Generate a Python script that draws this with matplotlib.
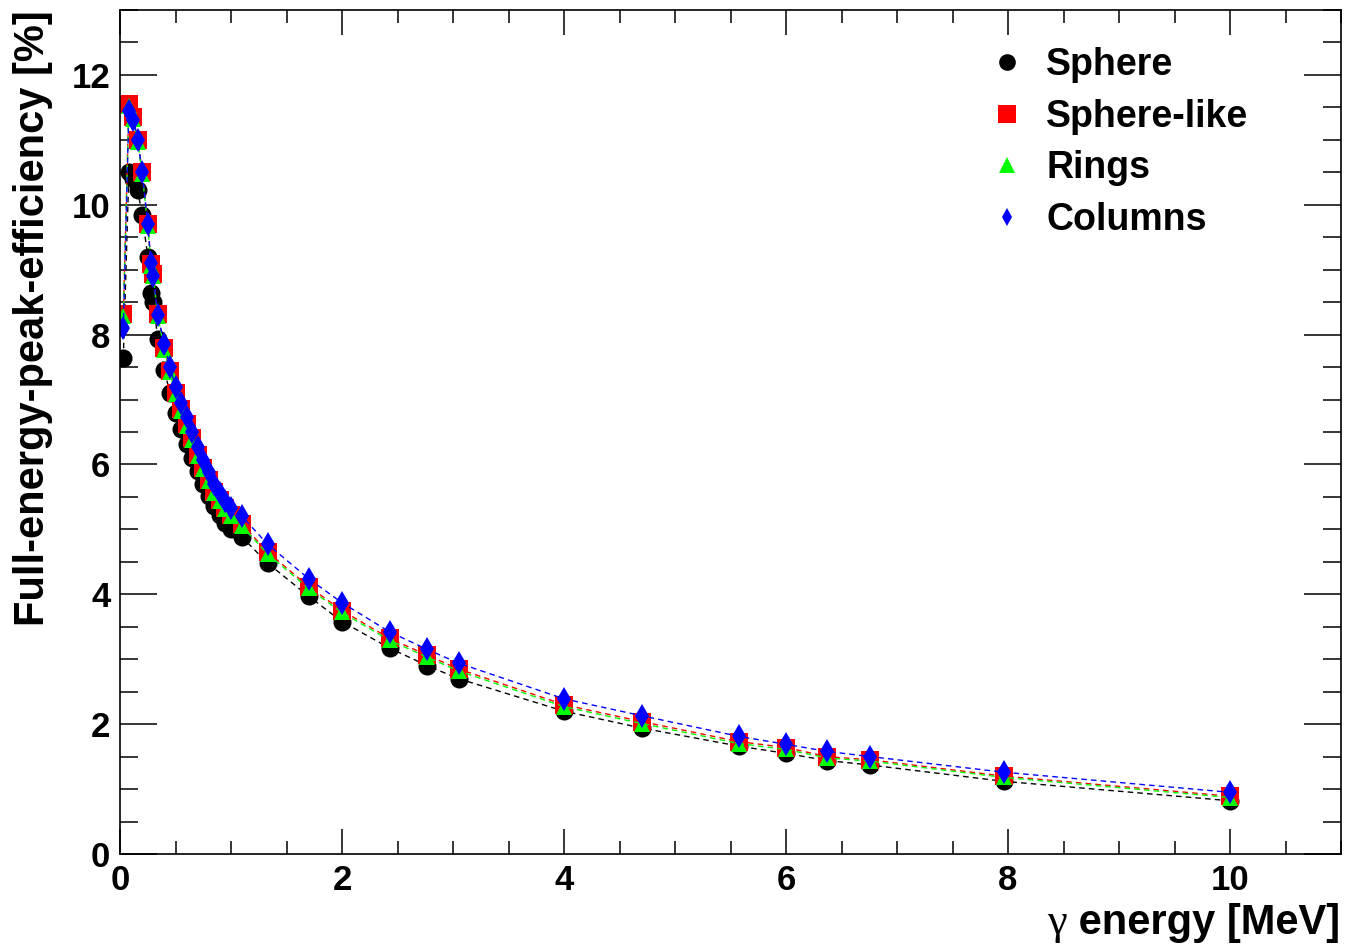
import numpy as np
import matplotlib
matplotlib.use('Agg')
import matplotlib.pyplot as plt

# gamma energies [MeV]
energy = [0.03, 0.08, 0.12, 0.16, 0.2, 0.25, 0.28, 0.3, 0.34, 0.4, 0.45, 0.5,
          0.55, 0.6, 0.65, 0.7, 0.75, 0.8, 0.85, 0.9, 0.95, 1.0, 1.1, 1.33,
          1.7, 2.0, 2.43, 2.77, 3.05, 4.0, 4.7, 5.58, 6.0, 6.37, 6.76, 7.96, 10.0]

# full-energy-peak efficiency [%] per geometry
sphere = [7.64, 10.5, 10.4, 10.22, 9.84, 9.2, 8.64, 8.5, 7.94, 7.45, 7.1, 6.8,
          6.55, 6.32, 6.1, 5.9, 5.7, 5.52, 5.36, 5.22, 5.1, 5.0, 4.88, 4.48,
          3.97, 3.58, 3.17, 2.9, 2.7, 2.2, 1.94, 1.66, 1.55, 1.44, 1.37, 1.12, 0.82]
sphere_like = [8.31, 11.55, 11.35, 11.0, 10.5, 9.7, 9.08, 8.93, 8.31, 7.79, 7.44, 7.1,
               6.85, 6.62, 6.4, 6.15, 5.95, 5.76, 5.58, 5.45, 5.33, 5.22, 5.08, 4.65,
               4.12, 3.75, 3.32, 3.06, 2.85, 2.3, 2.04, 1.73, 1.64, 1.5, 1.45, 1.2, 0.89]
rings = [8.28, 11.52, 11.32, 10.97, 10.47, 9.67, 9.05, 8.9, 8.28, 7.77, 7.42, 7.08,
         6.83, 6.6, 6.38, 6.13, 5.93, 5.74, 5.56, 5.43, 5.31, 5.2, 5.05, 4.62,
         4.09, 3.72, 3.29, 3.03, 2.82, 2.27, 2.01, 1.7, 1.61, 1.48, 1.43, 1.18, 0.87]
columns = [8.1, 11.45, 11.3, 11.0, 10.5, 9.7, 9.1, 8.9, 8.3, 7.85, 7.5, 7.2,
           6.95, 6.73, 6.5, 6.27, 6.07, 5.88, 5.7, 5.56, 5.44, 5.33, 5.2, 4.77,
           4.24, 3.87, 3.42, 3.15, 2.94, 2.39, 2.13, 1.81, 1.69, 1.58, 1.5, 1.26, 0.95]

labels = ['Sphere', 'Sphere-like', 'Rings', 'Columns']
colors = ['black', '#ff0000', '#00ff00', '#0000ff']
markers = ['o', 's', '^', 'd']
sizes = [13, 13, 12, 12]
legend_sizes = [12, 12.5, 11, 9]

plt.rcParams['font.family'] = ['Liberation Sans', 'DejaVu Sans']
plt.rcParams['font.weight'] = 'bold'

fig = plt.figure(figsize=(13.46, 9.5), dpi=100)
ax = fig.add_axes([120 / 1346, 1 - 854 / 950, 1221 / 1346, 844 / 950])

for y, lab, c, m, s in zip([sphere, sphere_like, rings, columns], labels, colors, markers, sizes):
    ax.plot(energy, y, color=c, lw=1.0, ls=(0, (4, 3)), marker=m, ms=s,
            mec=c, mfc=c, mew=0, label=lab)

ax.set_xlim(0, 11)
ax.set_ylim(0, 13)
ax.set_xticks(np.arange(0, 11, 2))
ax.set_xticks(np.arange(0, 11.01, 0.5), minor=True)
ax.set_yticks(np.arange(0, 13, 2))
ax.set_yticks(np.arange(0, 13.01, 0.5), minor=True)

ax.tick_params(axis='both', which='both', direction='in', top=True, right=True,
               width=1.1, labelsize=25)
ax.tick_params(axis='x', which='major', length=18, pad=7)
ax.tick_params(axis='x', which='minor', length=9.5)
ax.tick_params(axis='y', which='major', length=26.5, pad=7)
ax.tick_params(axis='y', which='minor', length=13)
for sp in ax.spines.values():
    sp.set_linewidth(1.2)

fig.text(33 / 1346, 1 - 10 / 950, 'Full-energy-peak-efficiency [%]', rotation=90,
         ha='center', va='top', fontsize=30, fontweight='bold')

# x title: symbol font gamma followed by bold text, right aligned to the axis end
xt = fig.text(1340 / 1346, 1 - 923 / 950, ' energy [MeV]', ha='right', va='center',
              fontsize=30, fontweight='bold')
fig.canvas.draw()
bb = xt.get_window_extent()
fig.text(bb.x0 / 1346, 1 - 923 / 950, '\u03b3', ha='right', va='center',
         fontsize=32, fontweight='normal', family=['Liberation Serif', 'DejaVu Serif'])

ax.legend(loc='upper left', bbox_to_anchor=(990 / 1346, 1 - 47 / 950),
          bbox_transform=fig.transFigure, frameon=False, fontsize=27,
          handlelength=0.9, handletextpad=0.6, labelspacing=0.42,
          borderpad=0, borderaxespad=0, numpoints=1)
for h, s in zip(ax.get_legend().legend_handles, legend_sizes):
    h.set_linestyle('none')
    h.set_markersize(s)

fig.savefig('out.png', dpi=100)
